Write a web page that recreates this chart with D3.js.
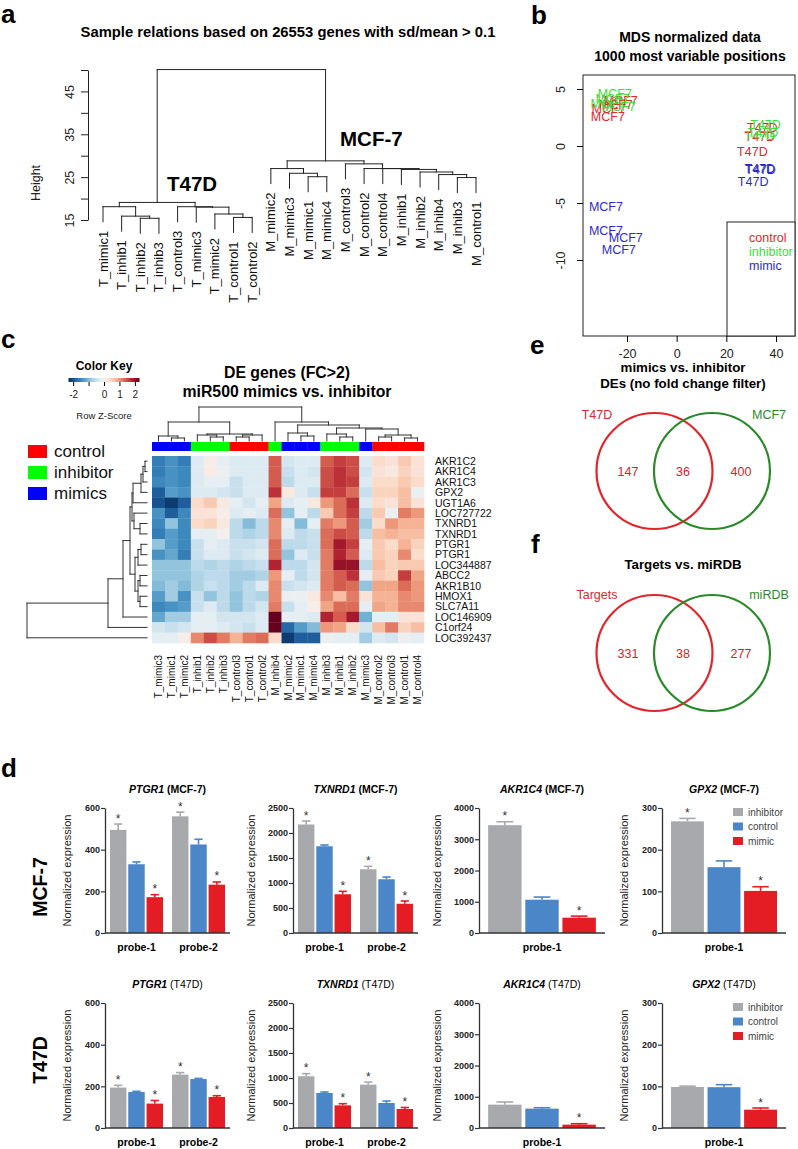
<!DOCTYPE html>
<html>
<head>
<meta charset="utf-8">
<script src="https://cdn.jsdelivr.net/npm/d3@7"></script>
<style>
body { margin: 0; background: #fff; }
svg { font-family: "Liberation Sans", Arial, sans-serif; }
</style>
</head>
<body>
<svg width="798" height="1149"></svg>
<script>
// ---------- data ----------
// panel a: sample clustering (leaf order as plotted, heights on "Height" axis)
const sampleLeaves = ["T_mimic1","T_inhib1","T_inhib2","T_inhib3","T_control3","T_mimic3","T_mimic2","T_control1","T_control2",
  "M_mimic2","M_mimic3","M_mimic1","M_mimic4","M_control3","M_control2","M_control4","M_inhib1","M_inhib2","M_inhib4","M_inhib3","M_control1"];
// [height, left, right]; numbers are leaf indices
const sampleTree = [50.1,
  [19.1, [18.1, 0, [15.9, 1, [15.4, 2, 3]]], [18.1, 4, [18.0, 5, [16.4, 6, [15.6, 7, 8]]]]],
  [28.8, [27.0, 9, [25.9, 10, [25.1, 11, 12]]],
         [28.1, 13, [27.0, 14, [27.0, 15, [26.8, 16, [26.2, 17, [25.6, 18, [24.9, 19, 20]]]]]]]]];
const heightTicks = [15, 20, 25, 30, 35, 40, 45, 50];
const heightLabels = [15, 25, 35, 45];

// panel b: MDS
const mdsLabel = ["MCF7","MCF7","MCF7","MCF7","MCF7","MCF7","MCF7","MCF7","MCF7","MCF7","MCF7","MCF7",
  "T47D","T47D","T47D","T47D","T47D","T47D","T47D","T47D","T47D"];
const mdsGroup = ["control","control","control","control","inhibitor","inhibitor","inhibitor","inhibitor","mimic","mimic","mimic","mimic",
  "control","control","control","inhibitor","inhibitor","inhibitor","mimic","mimic","mimic"];
const mdsX = [-22.5,-27.7,-27.4,-24.5, -24.9,-27.8,-23.3,-25.8, -28.5,-28.5,-20.5,-23.3, 34.5,33.5,30.5, 35.8,34.8,33.5, 33.5,33.8,30.8];
const mdsY = [3.97,2.57,3.25,3.6, 4.6,3.75,3.45,4.2, -5.3,-7.4,-8.0,-9.1, 1.6,0.85,-0.45, 1.85,1.2,0.95, -2.0,-2.05,-3.1];
const mdsXTicks = [-20, 0, 20, 40];
const mdsYTicks = [5, 0, -5, -10];
const mdsGroups = ["control","inhibitor","mimic"];

// panel c: heatmap
const hmCols = ["T_mimic3","T_mimic1","T_mimic2","T_inhib1","T_inhib2","T_inhib3","T_control3","T_control1","T_control2",
  "M_inhib4","M_mimic2","M_mimic1","M_mimic4","M_inhib3","M_inhib1","M_inhib2","M_mimic3","M_control2","M_control3","M_control1","M_control4"];
const hmColGroup = ["mimics","mimics","mimics","inhibitor","inhibitor","inhibitor","control","control","control",
  "inhibitor","mimics","mimics","mimics","inhibitor","inhibitor","inhibitor","mimics","control","control","control","control"];
const hmRows = ["AKR1C2","AKR1C4","AKR1C3","GPX2","UGT1A6","LOC727722","TXNRD1","TXNRD1","PTGR1","PTGR1",
  "LOC344887","ABCC2","AKR1B10","HMOX1","SLC7A11","LOC146909","C1orf24","LOC392437"];
const hmZ = [
  [-1.6,-1.4,-1.6,-0.3,0.1,-0.2,-0.3,-0.3,-0.3,1.4,-0.4,-0.3,-0.3,1.4,1.6,1.5,-0.3,0.4,0.3,0.6,0.3],
  [-1.6,-1.4,-1.5,-0.3,0.15,-0.1,-0.3,-0.3,-0.3,1.4,-0.5,-0.3,-0.4,1.5,1.7,1.5,-0.4,0.3,0.2,0.5,0.3],
  [-1.5,-1.4,-1.5,-0.3,-0.2,-0.2,-0.5,-0.3,-0.3,1.4,-0.6,-0.3,-0.3,1.5,1.7,1.6,-0.3,0.4,0.4,0.6,0.4],
  [-1.9,-1.3,-1.4,-0.3,-0.3,-0.4,-0.5,-0.3,-0.3,1.7,0.2,-0.3,-0.5,1.6,1.6,1.3,-0.5,0.5,0.5,0.7,-0.1],
  [-2.0,-2.2,-1.9,0.4,0.6,0.2,-0.2,-0.4,-0.2,0.9,-0.3,-0.2,0.2,1.0,1.3,1.7,-0.3,0.4,0.3,0.7,0.3],
  [-1.4,-1.9,-1.5,0.3,0.3,0.1,-0.3,-0.2,-0.3,1.3,-0.9,-0.2,-0.6,0.6,1.3,1.6,-0.6,0.6,-0.1,1.2,1.0],
  [-1.5,-0.9,-1.5,0.4,0.5,0.2,-0.6,-1.0,-0.6,1.1,-0.2,-1.0,-0.2,1.2,1.0,1.4,-0.8,0.4,1.0,0.8,0.8],
  [-1.6,-1.3,-1.5,-0.2,-0.2,0.0,-0.6,-0.7,-0.6,1.1,-0.3,-0.6,-0.5,1.3,1.5,1.4,-0.6,0.7,0.8,0.7,0.7],
  [-0.9,-1.3,-1.5,-0.5,-0.2,-0.3,-0.5,-0.5,-0.4,1.3,-0.6,-0.6,-0.5,1.3,1.9,1.6,-0.2,0.6,0.4,0.8,0.5],
  [-1.4,-1.2,-1.6,-0.5,-0.3,-0.3,-0.5,-0.4,-0.3,1.3,-0.9,-0.3,-0.5,1.2,1.8,1.4,-0.3,0.6,0.5,1.1,0.4],
  [-0.9,-0.9,-0.9,-0.6,-0.7,-0.6,-0.7,-0.6,-0.5,1.8,-0.6,-0.6,-0.4,1.2,2.0,2.0,-0.6,0.7,0.5,0.6,0.6],
  [-0.9,-0.9,-0.9,-0.7,-0.6,-0.6,-0.8,-0.8,-0.7,1.0,-0.2,-0.6,-0.4,1.2,1.4,1.7,-0.2,0.6,0.5,1.6,0.9],
  [-1.0,-0.8,-1.0,-0.7,-0.5,-0.6,-0.8,-0.6,-0.3,1.1,-0.5,-0.4,-0.3,1.2,1.4,1.3,-0.9,0.9,0.9,1.3,1.0],
  [-1.3,-0.8,-1.4,-0.5,-0.9,-0.6,-0.9,-0.6,-0.7,1.1,-0.1,-0.1,0.2,1.1,0.7,1.2,0.3,0.8,0.8,1.1,1.0],
  [-1.5,-1.4,-1.3,-0.5,-0.3,-0.6,-0.9,-0.6,-0.4,1.2,-0.5,-0.2,0.1,0.9,1.3,1.3,-0.2,0.9,0.8,1.1,1.1],
  [-1.2,-0.8,-0.8,-0.2,-0.2,-0.4,-0.4,-0.4,-0.3,2.6,-0.2,-0.2,-0.3,1.8,1.4,1.9,-1.1,-0.2,-0.2,0.3,0.3],
  [-0.4,-0.5,-0.4,-0.2,-0.2,-0.3,-0.4,-0.5,-0.3,2.5,-1.8,-1.3,-1.0,1.0,0.9,0.4,-0.4,0.7,1.2,0.5,0.7],
  [-0.2,-0.2,0.1,1.1,1.5,1.2,0.8,1.2,1.3,0.4,-2.2,-1.9,-1.9,-0.1,-0.2,-0.2,-0.8,-0.3,-0.4,-0.1,-0.2]
];
// dendrograms in pixel heights
const hmColTree = [34,
  [19, [5, 0, [3, 1, 2]], [7, [6, 3, [4, 4, 5]], [6, [4, 6, 7], 8]]],
  [19, 9, [16, [8, 10, [5, 11, 12]], [13, [7, 13, [4, 14, 15]], [12, 16, [6, [4, 17, 18], [3, 19, 20]]]]]]];
const hmRowTree = [120, [39, [24, [17,
  [15, [14, [6, [4, [2, 0, 1], 2], 3], 4], [13, 5, [7, 6, 7]]],
  [12, [9, [6, 8, 9], 10], [9, [7, 11, 12], [7, 13, 14]]]], 15], 16], 17];
const keyTicks = [-2, -1, 0, 1, 2];
const keyLabels = [-2, 0, 1, 2];
const hmLegend = ["control","inhibitor","mimics"];

// panels e, f: venn
const vennE = { title: ["mimics vs. inhibitor", "DEs (no fold change filter)"], sets: ["T47D","MCF7"], counts: [147, 36, 400] };
const vennF = { title: ["Targets vs. miRDB"], sets: ["Targets","miRDB"], counts: [331, 38, 277] };

// panel d: bar charts
const barGenes = ["PTGR1","TXNRD1","AKR1C4","GPX2"];
const barCells = ["MCF-7","T47D"];
const barConds = ["inhibitor","control","mimic"];
const barProbes = [["probe-1","probe-2"],["probe-1","probe-2"],["probe-1"],["probe-1"]];
const barMax = [600, 2500, 4000, 300];
const barStep = [200, 500, 1000, 100];
const mcf7Mean = [[[495,330,172],[560,425,232]], [[2170,1735,775],[1275,1075,585]], [[3450,1065,490]], [[268,158,101]]];
const mcf7Err  = [[[28,11,12],[20,25,13]], [[70,25,58],[58,45,55]], [[110,85,50]], [[7,15,10]]];
const mcf7Star = [[[1,0,1],[1,0,1]], [[1,0,1],[1,0,1]], [[1,0,1]], [[1,0,1]]];
const t47dMean = [[[194,173,117],[256,235,149]], [[1035,700,453],[867,500,380]], [[747,619,107]], [[98.5,98,44]]];
const t47dErr  = [[[11,3,15],[10,3,6]], [[52,20,33],[52,40,30]], [[85,30,30]], [[2,6,4]]];
const t47dStar = [[[1,0,1],[1,0,1]], [[1,0,1],[1,0,1]], [[0,0,1]], [[0,0,1]]];

// ---------- drawing ----------
const svg = d3.select("svg");
svg.append("rect").attr("width", 798).attr("height", 1149).attr("fill", "#fff");
const FONT = "Liberation Sans, Arial, sans-serif";
const plain = d => String(d);   // hyphen minus, no thousands comma

function letter(t, x, y) {
  svg.append("text").attr("x", x).attr("y", y).attr("font-size", 26).attr("font-weight", "bold").text(t);
}
function title(lines, x, y, size, dy) {
  lines.forEach((l, i) => svg.append("text").attr("x", x).attr("y", y + i * dy).attr("text-anchor", "middle")
    .attr("font-size", size).attr("font-weight", "bold").text(l));
}

// generic dendrogram: returns segments in (position, height) space
function dendroSegs(tree, leafPos, leafH, ends) {
  const segs = [];
  function walk(n, ph) {
    if (typeof n === "number") {
      const h = leafH(ph);
      if (ends) ends[n] = h;
      return { p: leafPos(n), h };
    }
    const [h, a, b] = n;
    const A = walk(a, h), B = walk(b, h);
    segs.push([A.p, A.h, A.p, h], [B.p, B.h, B.p, h], [A.p, h, B.p, h]);
    return { p: (A.p + B.p) / 2, h };
  }
  walk(tree, null);
  return segs;
}
function drawSegs(g, segs, toXY, color) {
  g.selectAll("line.seg").data(segs).join("line").attr("class", "seg")
    .attr("x1", d => toXY(d[0], d[1])[0]).attr("y1", d => toXY(d[0], d[1])[1])
    .attr("x2", d => toXY(d[2], d[3])[0]).attr("y2", d => toXY(d[2], d[3])[1])
    .attr("stroke", color).attr("stroke-width", 1).attr("stroke-linecap", "square");
}

// ===== panel a =====
letter("a", 1, 23);
title(["Sample relations based on 26553 genes with sd/mean > 0.1"], 288, 37, 14.8, 0);
const aX = d3.scalePoint().domain(d3.range(sampleLeaves.length)).range([103, 476]);
const aY = d3.scaleLinear().domain([15, 50]).range([220, 70]);
const aEnds = {};
const ga = svg.append("g");
drawSegs(ga, dendroSegs(sampleTree, i => aX(i), ph => ph - 3.5, aEnds), (p, h) => [p, aY(h)], "#222");
ga.selectAll("text.leaf").data(sampleLeaves).join("text").attr("class", "leaf")
  .attr("transform", (d, i) => `translate(${aX(i) + 4.5},${aY(aEnds[i]) + 9}) rotate(-90)`)
  .attr("text-anchor", "end").attr("font-size", 13).attr("fill", "#111").text(d => d);
const aAxis = svg.append("g").attr("transform", "translate(88,0)")
  .call(d3.axisLeft(aY).tickValues(heightTicks).tickSize(7).tickSizeOuter(0)
    .tickFormat(d => heightLabels.includes(d) ? d : ""));
aAxis.select(".domain").attr("stroke", "#222");
aAxis.selectAll(".tick line").attr("stroke", "#222");
aAxis.selectAll(".tick text").attr("transform", "translate(-14,0) rotate(-90)").attr("x", 0).attr("dy", 0)
  .attr("text-anchor", "middle").attr("font-size", 12.5).attr("fill", "#222").attr("font-family", FONT);
svg.append("text").attr("transform", "translate(40,183) rotate(-90)").attr("text-anchor", "middle")
  .attr("font-size", 12.5).attr("fill", "#222").text("Height");
svg.append("text").attr("x", 167).attr("y", 191).attr("font-size", 20.5).attr("font-weight", "bold").text("T47D");
svg.append("text").attr("x", 340).attr("y", 146).attr("font-size", 20.5).attr("font-weight", "bold").text("MCF-7");

// ===== panel b =====
letter("b", 531, 24);
title(["MDS normalized data", "1000 most variable positions"], 690, 42, 14, 19);
const mdsColor = d3.scaleOrdinal().domain(mdsGroups).range(["#e2262a", "#3ddc3d", "#2b2bd0"]);
const bX = d3.scaleLinear().domain([-20, 40]).range([627, 776]);
const bY = d3.scaleLinear().domain([5, -10]).range([89, 260]);
const gb = svg.append("g");
gb.append("rect").attr("x", 583).attr("y", 75).attr("width", 212).attr("height", 261)
  .attr("fill", "none").attr("stroke", "#222");
gb.selectAll("text.pt").data(mdsLabel).join("text").attr("class", "pt")
  .attr("x", (d, i) => bX(mdsX[i])).attr("y", (d, i) => bY(mdsY[i])).attr("dy", "0.36em")
  .attr("text-anchor", "middle").attr("font-size", 12.5).attr("fill", (d, i) => mdsColor(mdsGroup[i])).text(d => d);
const bxa = svg.append("g").attr("transform", "translate(0,336)")
  .call(d3.axisBottom(bX).tickValues(mdsXTicks).tickSize(6).tickSizeOuter(0).tickFormat(plain));
bxa.select(".domain").remove();
bxa.selectAll("text").attr("font-size", 12.5).attr("dy", "1.05em").attr("fill", "#222").attr("font-family", FONT);
const bya = svg.append("g").attr("transform", "translate(583,0)")
  .call(d3.axisLeft(bY).tickValues(mdsYTicks).tickSize(6).tickSizeOuter(0).tickFormat(plain));
bya.select(".domain").remove();
bya.selectAll("text").attr("transform", "translate(-18,0) rotate(-90)").attr("x", 0).attr("dy", 0)
  .attr("text-anchor", "middle").attr("font-size", 12.5).attr("fill", "#222").attr("font-family", FONT);
gb.append("rect").attr("x", 727).attr("y", 222).attr("width", 68).attr("height", 114)
  .attr("fill", "#fff").attr("stroke", "#222");
mdsGroups.forEach((g, i) => gb.append("text").attr("x", 749).attr("y", 242 + i * 14)
  .attr("font-size", 12.5).attr("fill", mdsColor(g)).text(g));

// ===== panel c =====
letter("c", 1, 348);
const hmX = d3.scaleBand().domain(d3.range(hmCols.length)).range([152, 424]);
const hmY = d3.scaleBand().domain(d3.range(hmRows.length)).range([456, 643]);
const zColor = z => d3.interpolateRdBu(Math.max(0, Math.min(1, 0.5 - z / 4.6)));
const groupColor = d3.scaleOrdinal().domain(hmLegend).range(["#ff0000", "#00ff00", "#0000ff"]);
const gc = svg.append("g");
hmZ.forEach((row, r) => row.forEach((z, c) => gc.append("rect")
  .attr("x", hmX(c)).attr("y", hmY(r)).attr("width", hmX.bandwidth() + 0.3).attr("height", hmY.bandwidth() + 0.3)
  .attr("fill", zColor(z))));
gc.selectAll("rect.grp").data(hmColGroup).join("rect").attr("class", "grp")
  .attr("x", (d, i) => hmX(i)).attr("y", 442).attr("width", hmX.bandwidth() + 0.3).attr("height", 9)
  .attr("fill", d => groupColor(d));
gc.selectAll("text.rl").data(hmRows).join("text").attr("class", "rl")
  .attr("x", 435).attr("y", (d, i) => hmY(i) + hmY.bandwidth() / 2).attr("dy", "0.36em")
  .attr("font-size", 10.5).attr("fill", "#111").text(d => d);
gc.selectAll("text.cl").data(hmCols).join("text").attr("class", "cl")
  .attr("transform", (d, i) => `translate(${hmX(i) + hmX.bandwidth() / 2 + 3.5},655) rotate(-90)`)
  .attr("text-anchor", "end").attr("font-size", 10).attr("fill", "#111").text(d => d);
drawSegs(gc.append("g"), dendroSegs(hmColTree, i => hmX(i) + hmX.bandwidth() / 2, () => 0),
  (p, h) => [p, 441 - h], "#333");
drawSegs(gc.append("g"), dendroSegs(hmRowTree, i => hmY(i) + hmY.bandwidth() / 2, () => 0),
  (p, h) => [147 - h, p], "#333");
title(["DE genes (FC>2)", "miR500 mimics vs. inhibitor"], 287, 378, 15.8, 19);
// color key
const keyX = d3.scaleLinear().domain([-2.3, 2.3]).range([68.5, 139.5]);
const grad = svg.append("defs").append("linearGradient").attr("id", "kg");
d3.range(0, 1.0001, 0.05).forEach(t => grad.append("stop").attr("offset", t)
  .attr("stop-color", zColor(-2.3 + t * 4.6)));
svg.append("text").attr("x", 104).attr("y", 370).attr("text-anchor", "middle").attr("font-size", 12)
  .attr("font-weight", "bold").text("Color Key");
svg.append("rect").attr("x", keyX(-2.3)).attr("y", 378).attr("width", keyX(2.3) - keyX(-2.3)).attr("height", 4)
  .attr("fill", "url(#kg)");
const ka = svg.append("g").attr("transform", "translate(0,382)")
  .call(d3.axisBottom(keyX).tickValues(keyTicks).tickSize(4).tickSizeOuter(0)
    .tickFormat(d => keyLabels.includes(d) ? plain(d) : ""));
ka.select(".domain").remove();
ka.selectAll("text").attr("font-size", 10).attr("fill", "#222").attr("dy", "0.9em").attr("font-family", FONT);
svg.append("text").attr("x", 104).attr("y", 419).attr("text-anchor", "middle").attr("font-size", 9.5)
  .attr("fill", "#222").text("Row Z-Score");
hmLegend.forEach((g, i) => {
  svg.append("rect").attr("x", 28).attr("y", 445 + i * 21).attr("width", 19).attr("height", 13).attr("fill", groupColor(g));
  svg.append("text").attr("x", 54).attr("y", 457 + i * 21).attr("font-size", 17).attr("fill", "#111").text(g);
});

// ===== panels e, f =====
function venn(v, cy, titleY, labelY) {
  title(v.title, 683, titleY, 13.3, 16);
  const r = 58;
  const cx = [654.5, 712];
  const cols = ["#e0262b", "#2a8a2a"];
  cx.forEach((x, i) => svg.append("circle").attr("cx", x).attr("cy", cy).attr("r", r)
    .attr("fill", "none").attr("stroke", cols[i]).attr("stroke-width", 2.2));
  v.sets.forEach((s, i) => svg.append("text").attr("x", [597, 769][i]).attr("y", labelY)
    .attr("text-anchor", "middle").attr("font-size", 12.5).attr("fill", i === 0 ? "#d8282e" : "#2a8a2a").text(s));
  v.counts.forEach((c, i) => svg.append("text").attr("x", [628, 683, 741][i]).attr("y", cy + 4.5)
    .attr("text-anchor", "middle").attr("font-size", 12.5).attr("fill", "#d2232a").text(c));
}
letter("e", 530, 354);
venn(vennE, 471, 372, 419);
letter("f", 531, 553);
venn(vennF, 653, 569, 599);

// ===== panel d =====
letter("d", 1, 777);
const barColor = d3.scaleOrdinal().domain(barConds).range(["#a7a9ac", "#4a86c8", "#e41c24"]);
const chartX = [[105, 230], [293, 418], [479, 605], [662, 786]];
const chartY = [[933, 808], [1128, 1003]];
const cellMeans = [mcf7Mean, t47dMean], cellErrs = [mcf7Err, t47dErr], cellStars = [mcf7Star, t47dStar];

barCells.forEach((cell, ci) => {
  svg.append("text").attr("transform", `translate(47,${[887, 1060][ci]}) rotate(-90)`).attr("text-anchor", "middle")
    .attr("font-size", 19.5).attr("font-weight", "bold").text(cell);
  barGenes.forEach((gene, gi) => {
    const [x0, x1] = chartX[gi];
    const y = d3.scaleLinear().domain([0, barMax[gi]]).range(chartY[ci]);
    const probes = barProbes[gi];
    const xp = d3.scaleBand().domain(probes).range([x0, x1]).paddingInner(0.145).paddingOuter(probes.length > 1 ? 0.08 : 0.02);
    const xc = d3.scaleBand().domain(barConds).range([0, xp.bandwidth()]).paddingInner(0.1);
    const g = svg.append("g");
    // title
    const t = g.append("text").attr("x", (x0 + x1) / 2).attr("y", chartY[ci][1] - 15).attr("text-anchor", "middle")
      .attr("font-size", 10.5);
    t.append("tspan").attr("font-weight", "bold").attr("font-style", "italic").text(gene);
    t.append("tspan").attr("font-weight", ci === 0 ? "bold" : "normal").text(` (${cell})`);
    // bars
    probes.forEach((p, pi) => barConds.forEach((c, k) => {
      const m = cellMeans[ci][gi][pi][k], e = cellErrs[ci][gi][pi][k];
      const bx = xp(p) + xc(c), bw = xc.bandwidth(), col = barColor(c);
      g.append("rect").attr("x", bx).attr("y", y(m)).attr("width", bw).attr("height", y(0) - y(m)).attr("fill", col);
      g.append("line").attr("x1", bx + bw / 2).attr("x2", bx + bw / 2).attr("y1", y(m)).attr("y2", y(m + e))
        .attr("stroke", col).attr("stroke-width", 1.6);
      g.append("line").attr("x1", bx + bw * 0.25).attr("x2", bx + bw * 0.75).attr("y1", y(m + e)).attr("y2", y(m + e))
        .attr("stroke", col).attr("stroke-width", 1.6);
      if (cellStars[ci][gi][pi][k]) g.append("text").attr("x", bx + bw / 2).attr("y", y(m + e) - 1.5)
        .attr("text-anchor", "middle").attr("font-size", 12).attr("fill", "#333").text("*");
    }));
    // axes
    const ya = g.append("g").attr("transform", `translate(${x0},0)`)
      .call(d3.axisLeft(y).tickValues(d3.range(0, barMax[gi] + 1, barStep[gi])).tickSize(4).tickSizeOuter(0).tickFormat(plain));
    ya.select(".domain").attr("stroke", "#333").attr("stroke-width", 1.3);
    ya.selectAll(".tick line").attr("stroke", "#333").attr("stroke-width", 1.2);
    ya.selectAll("text").attr("font-size", 9).attr("font-weight", "bold").attr("fill", "#222").attr("x", -5)
      .attr("font-family", FONT);
    g.append("line").attr("x1", x0).attr("x2", x1).attr("y1", y(0)).attr("y2", y(0)).attr("stroke", "#333").attr("stroke-width", 1.3);
    probes.forEach(p => g.append("text").attr("x", xp(p) + xp.bandwidth() / 2).attr("y", y(0) + 18)
      .attr("text-anchor", "middle").attr("font-size", 10.5).attr("font-weight", "bold").text(p));
    g.append("text").attr("transform", `translate(${x0 - 22 - String(barMax[gi]).length * 4},${(chartY[ci][0] + chartY[ci][1]) / 2}) rotate(-90)`)
      .attr("text-anchor", "middle").attr("font-size", 11).attr("fill", "#222").text("Normalized expression");
    // legend on last chart
    if (gi === barGenes.length - 1) barConds.forEach((c, k) => {
      g.append("rect").attr("x", 733).attr("y", chartY[ci][1] + 4 + k * 14.5 - 4).attr("width", 10).attr("height", 8).attr("fill", barColor(c));
      g.append("text").attr("x", 748).attr("y", chartY[ci][1] + 4 + k * 14.5).attr("dy", "0.35em")
        .attr("font-size", 10).attr("fill", "#444").text(c);
    });
  });
});
</script>
</body>
</html>
